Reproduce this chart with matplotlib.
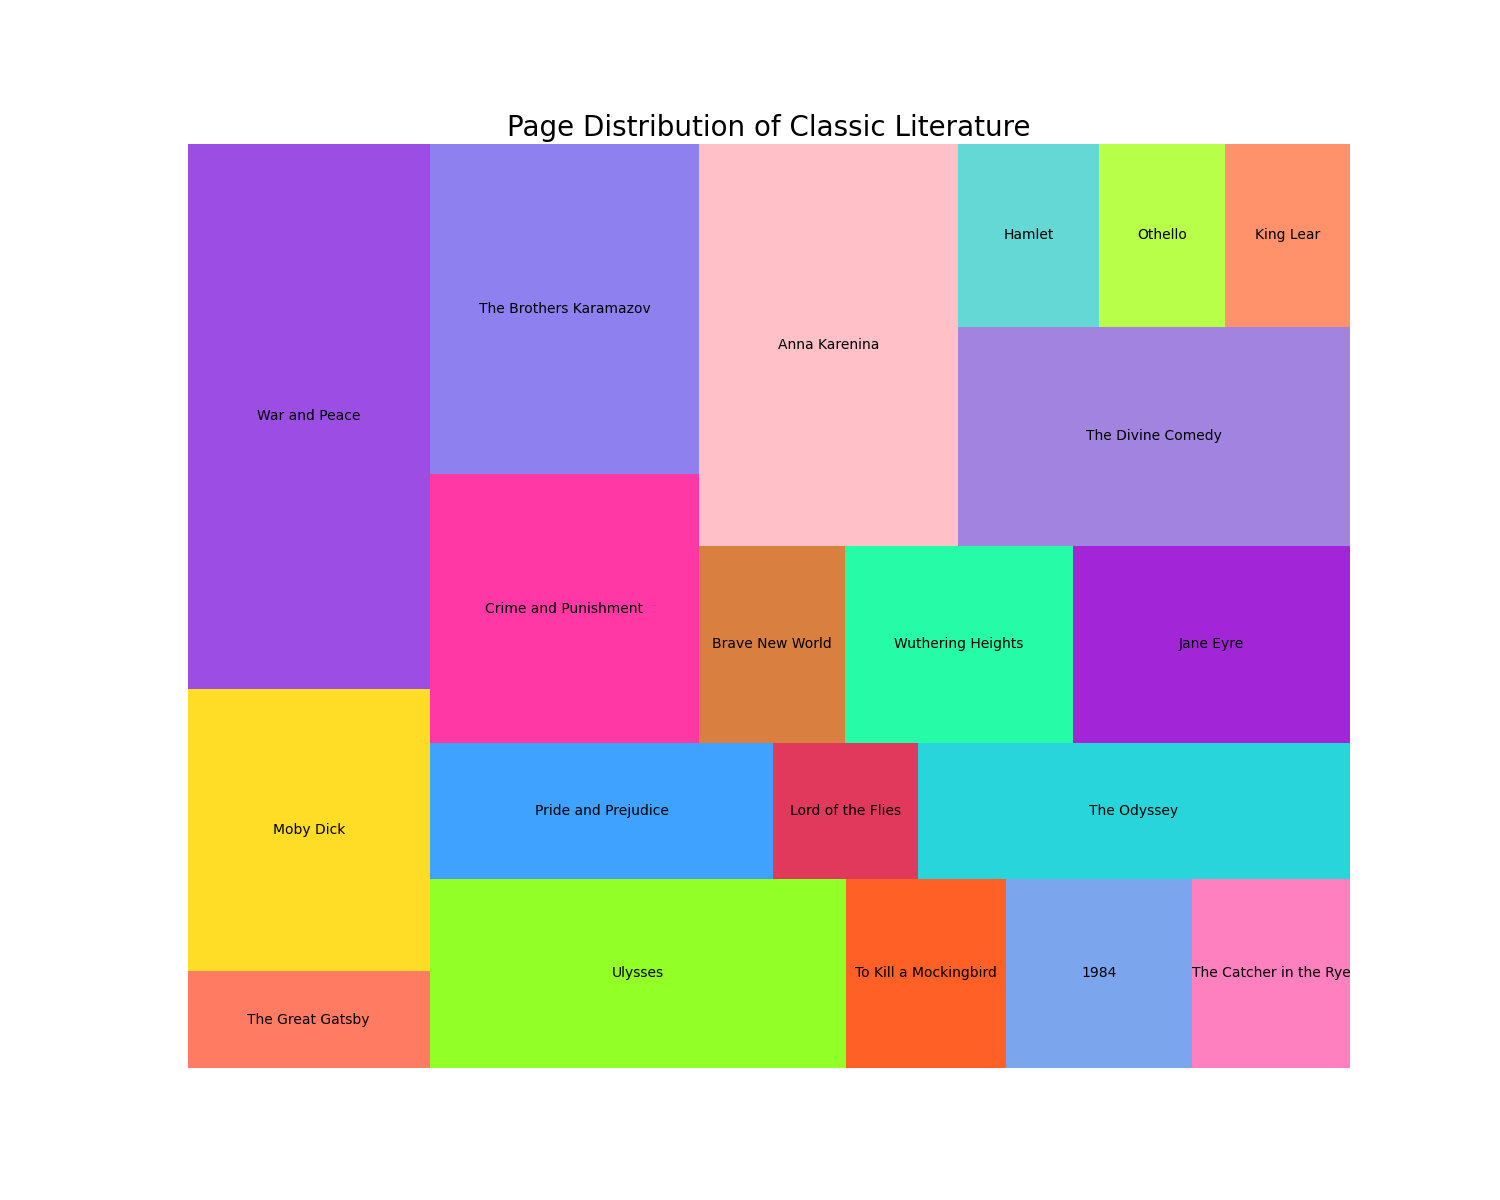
import matplotlib
matplotlib.use("Agg")
import matplotlib.pyplot as plt
from matplotlib.patches import Rectangle

books = ["The Great Gatsby", "Moby Dick", "War and Peace", "Ulysses", "To Kill a Mockingbird",
         "1984", "The Catcher in the Rye", "Pride and Prejudice", "Lord of the Flies", "The Odyssey",
         "Crime and Punishment", "The Brothers Karamazov", "Brave New World", "Wuthering Heights",
         "Jane Eyre", "Anna Karenina", "The Divine Comedy", "Hamlet", "Othello", "King Lear"]
pages = [218, 635, 1225, 730, 281, 328, 277, 432, 182, 544, 671, 824, 268, 416, 507, 964, 798, 240, 214, 211]
colors = ["#ff7b61", "#ffdd26", "#9b4de4", "#92ff26", "#ff6026", "#7ba6ed", "#ff80bf", "#40a2ff",
          "#e0395b", "#28d5da", "#ff38a5", "#8f80f0", "#d98040", "#26fca8", "#a325d8", "#ffc0c8",
          "#a284e0", "#63d8d5", "#b8ff4a", "#ff926a"]


# squarify algorithm
def layoutrow(s, x, y, dx, dy):
    w = sum(s) / dy
    out = []
    for v in s:
        out.append((x, y, w, v / w))
        y += v / w
    return out

def layoutcol(s, x, y, dx, dy):
    h = sum(s) / dx
    out = []
    for v in s:
        out.append((x, y, v / h, h))
        x += v / h
    return out

def layout(s, x, y, dx, dy):
    return layoutrow(s, x, y, dx, dy) if dx >= dy else layoutcol(s, x, y, dx, dy)

def leftover(s, x, y, dx, dy):
    if dx >= dy:
        w = sum(s) / dy
        return x + w, y, dx - w, dy
    h = sum(s) / dx
    return x, y + h, dx, dy - h

def worst(s, x, y, dx, dy):
    return max(max(r[2] / r[3], r[3] / r[2]) for r in layout(s, x, y, dx, dy))

def squarify(s, x, y, dx, dy):
    if len(s) == 0:
        return []
    if len(s) == 1:
        return layout(s, x, y, dx, dy)
    i = 1
    while i < len(s) and worst(s[:i], x, y, dx, dy) >= worst(s[:i + 1], x, y, dx, dy):
        i += 1
    cur, rem = s[:i], s[i:]
    lx, ly, ldx, ldy = leftover(cur, x, y, dx, dy)
    return layout(cur, x, y, dx, dy) + squarify(rem, lx, ly, ldx, ldy)


tot = sum(pages)
sizes = [p * 100 * 100 / tot for p in pages]
rects = squarify(sizes, 0, 0, 100, 100)

fig, ax = plt.subplots(figsize=(15, 12), dpi=100)
for (x, y, w, h), name, c in zip(rects, books, colors):
    ax.add_patch(Rectangle((x, y), w, h, facecolor=c, edgecolor="none"))
    ax.text(x + w / 2, y + h / 2, name, ha="center", va="center", fontsize=10)
ax.set_xlim(0, 100)
ax.set_ylim(0, 100)
ax.axis("off")
ax.set_title("Page Distribution of Classic Literature", fontsize=20)
fig.savefig("out.png")
